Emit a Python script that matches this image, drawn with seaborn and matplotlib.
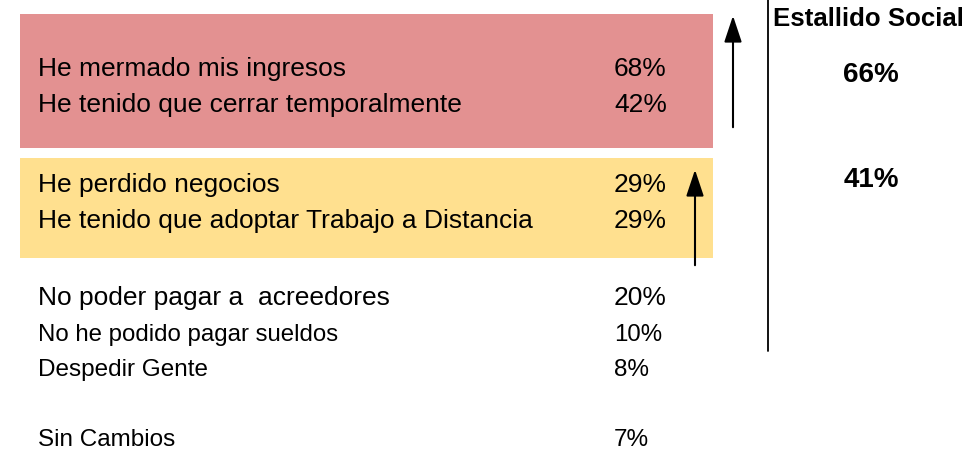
import matplotlib
matplotlib.use("Agg")
import matplotlib.pyplot as plt
import seaborn as sns

# impactos reportados y su porcentaje
labels = [
    "He mermado mis ingresos",
    "He tenido que cerrar temporalmente",
    "He perdido negocios",
    "He tenido que adoptar Trabajo a Distancia",
    "No poder pagar a  acreedores",
    "No he podido pagar sueldos",
    "Despedir Gente",
    "Sin Cambios",
]
values = [68, 42, 29, 29, 20, 10, 8, 7]
row_y = [69, 105, 185, 221, 298, 335, 370, 440]
row_size = [19, 19, 19, 19, 19, 17.3, 17.5, 17.5]

# comparación con el estallido social
estallido_title = "Estallido Social"
estallido_values = [66, 41]
estallido_y = [75, 180]

red = "#E39191"
yellow = "#FFE08F"

sns.set_theme(style="white")
plt.rcParams["font.family"] = ["Liberation Sans", "DejaVu Sans"]
plt.rcParams["text.color"] = "black"

fig = plt.figure(figsize=(9.78, 4.51), dpi=100)
ax = fig.add_axes([0, 0, 1, 1])
ax.set_xlim(0, 978)
ax.set_ylim(451, 0)
ax.axis("off")

# bloques de color
ax.add_patch(plt.Rectangle((20, 14), 693, 134, color=red, lw=0))
ax.add_patch(plt.Rectangle((20, 158), 693, 100, color=yellow, lw=0))

for lab, val, y, fs in zip(labels, values, row_y, row_size):
    ax.text(38, y, lab, fontsize=fs, va="center", ha="left", color="black")
    ax.text(614, y, f"{val}%", fontsize=fs, va="center", ha="left", color="black")

# flechas
ax.annotate("", xy=(733, 13), xytext=(733, 130),
            arrowprops=dict(arrowstyle="-|>,head_length=0.9,head_width=0.3",
                            color="black", lw=1.5, mutation_scale=18))
ax.annotate("", xy=(695, 167), xytext=(695, 268),
            arrowprops=dict(arrowstyle="-|>,head_length=0.9,head_width=0.3",
                            color="black", lw=1.5, mutation_scale=18))

# columna estallido social
ax.plot([768, 768], [0, 351], color="black", lw=1.3)
ax.text(773, 19, estallido_title, fontsize=18.6, fontweight="bold",
        va="center", ha="left", color="black")
for v, y in zip(estallido_values, estallido_y):
    ax.text(871, y, f"{v}%", fontsize=20, fontweight="bold",
            va="center", ha="center", color="black")

fig.savefig("out.png", dpi=100)
